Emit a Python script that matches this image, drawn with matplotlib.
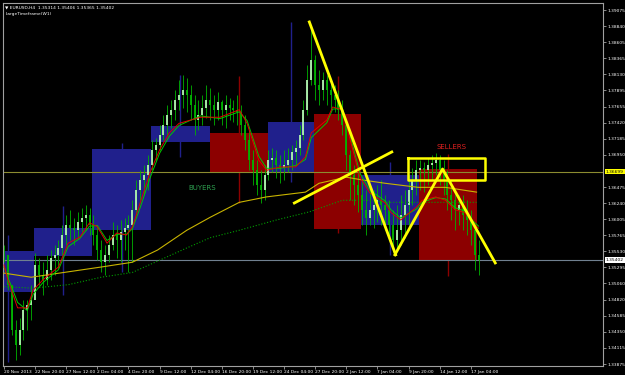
import matplotlib
matplotlib.use("Agg")
import matplotlib.pyplot as plt
from matplotlib.transforms import blended_transform_factory

# EURUSD H4, prix (une barre sur deux)
hi = [1.3562, 1.3548, 1.3504, 1.3452, 1.3455, 1.3481, 1.3481, 1.3504,
      1.3551, 1.3543, 1.3537, 1.3548, 1.3555, 1.3562, 1.3570, 1.3592,
      1.3606, 1.3614, 1.3602, 1.3611, 1.3617, 1.3621, 1.3617, 1.3606,
      1.3592, 1.3570, 1.3562, 1.3577, 1.3596, 1.3592, 1.3599, 1.3602,
      1.3606, 1.3628, 1.3658, 1.3672, 1.3680, 1.3695, 1.3717, 1.3719,
      1.3738, 1.3753, 1.3768, 1.3775, 1.3790, 1.3805, 1.3812, 1.3808,
      1.3797, 1.3783, 1.3775, 1.3783, 1.3797, 1.3793, 1.3783, 1.3787,
      1.3775, 1.3783, 1.3778, 1.3775, 1.3783, 1.3768, 1.3753, 1.3731,
      1.3702, 1.3687, 1.3672, 1.3680, 1.3702, 1.3705, 1.3702, 1.3695,
      1.3702, 1.3705, 1.3709, 1.3717, 1.3738, 1.3775, 1.3827, 1.3883,
      1.3841, 1.3819, 1.3816, 1.3812, 1.3805, 1.3797, 1.3790, 1.3775,
      1.3746, 1.3702, 1.3680, 1.3669, 1.3658, 1.3643, 1.3646, 1.3643,
      1.3650, 1.3658, 1.3636, 1.3628, 1.3614, 1.3621, 1.3636, 1.3643,
      1.3665, 1.3675, 1.3687, 1.3687, 1.3684, 1.3690, 1.3695, 1.3698,
      1.3695, 1.3687, 1.3672, 1.3658, 1.3643, 1.3636, 1.3636, 1.3628,
      1.3614, 1.3592, 1.3570]
lo = [1.3537, 1.3496, 1.3430, 1.3393, 1.3401, 1.3423, 1.3437, 1.3452,
      1.3496, 1.3504, 1.3489, 1.3504, 1.3511, 1.3518, 1.3529, 1.3548,
      1.3562, 1.3570, 1.3562, 1.3573, 1.3581, 1.3584, 1.3577, 1.3562,
      1.3540, 1.3522, 1.3518, 1.3537, 1.3555, 1.3543, 1.3537, 1.3555,
      1.3522, 1.3537, 1.3606, 1.3628, 1.3636, 1.3643, 1.3672, 1.3687,
      1.3702, 1.3717, 1.3724, 1.3734, 1.3746, 1.3761, 1.3763, 1.3758,
      1.3746, 1.3724, 1.3731, 1.3738, 1.3749, 1.3746, 1.3738, 1.3746,
      1.3738, 1.3734, 1.3746, 1.3743, 1.3738, 1.3724, 1.3702, 1.3672,
      1.3650, 1.3636, 1.3624, 1.3628, 1.3658, 1.3669, 1.3661, 1.3653,
      1.3658, 1.3669, 1.3672, 1.3680, 1.3695, 1.3717, 1.3753, 1.3797,
      1.3775, 1.3768, 1.3775, 1.3768, 1.3761, 1.3758, 1.3746, 1.3724,
      1.3672, 1.3628, 1.3621, 1.3611, 1.3592, 1.3577, 1.3592, 1.3587,
      1.3596, 1.3592, 1.3584, 1.3570, 1.3552, 1.3555, 1.3562, 1.3573,
      1.3592, 1.3621, 1.3636, 1.3643, 1.3640, 1.3650, 1.3658, 1.3665,
      1.3650, 1.3636, 1.3614, 1.3599, 1.3584, 1.3592, 1.3584, 1.3577,
      1.3562, 1.3526, 1.3518]
cl = [1.3548, 1.3504, 1.3437, 1.3415, 1.3437, 1.3467, 1.3474, 1.3481,
      1.3533, 1.3518, 1.3511, 1.3526, 1.3543, 1.3548, 1.3558, 1.3577,
      1.3592, 1.3587, 1.3584, 1.3596, 1.3602, 1.3606, 1.3592, 1.3577,
      1.3555, 1.3537, 1.3548, 1.3562, 1.3577, 1.3570, 1.3581, 1.3587,
      1.3592, 1.3614, 1.3643, 1.3658, 1.3665, 1.3680, 1.3702, 1.3709,
      1.3724, 1.3738, 1.3753, 1.3761, 1.3775, 1.3783, 1.3790, 1.3783,
      1.3768, 1.3746, 1.3753, 1.3763, 1.3775, 1.3768, 1.3761, 1.3772,
      1.3761, 1.3768, 1.3763, 1.3761, 1.3758, 1.3738, 1.3717, 1.3687,
      1.3672, 1.3650, 1.3643, 1.3665, 1.3687, 1.3690, 1.3680, 1.3675,
      1.3680, 1.3687, 1.3699, 1.3705, 1.3724, 1.3761, 1.3805, 1.3834,
      1.3797, 1.3790, 1.3805, 1.3790, 1.3783, 1.3775, 1.3761, 1.3738,
      1.3695, 1.3665, 1.3650, 1.3636, 1.3614, 1.3602, 1.3614, 1.3621,
      1.3628, 1.3621, 1.3614, 1.3592, 1.3570, 1.3584, 1.3606, 1.3621,
      1.3643, 1.3658, 1.3672, 1.3675, 1.3672, 1.3680, 1.3683, 1.3687,
      1.3672, 1.3658, 1.3636, 1.3628, 1.3614, 1.3621, 1.3606, 1.3599,
      1.3584, 1.3548, 1.3540]

# moyennes mobiles
ma_bars = [0, 2, 7, 12, 15, 20, 28, 33, 39, 44, 48, 53, 58, 63, 66, 70,
           75, 80, 85, 90, 101, 111, 121, 125, 131, 135, 142, 150, 155, 158,
           166, 169, 174, 179, 183, 188, 196, 199, 204, 212, 215, 222, 227,
           232, 237, 241, 244]
ma_red = [1.3533, 1.3511, 1.3470, 1.3470, 1.3496, 1.3511, 1.3530, 1.3565,
          1.3574, 1.3595, 1.3589, 1.3565, 1.3580, 1.3577, 1.3589, 1.3624,
          1.3668, 1.3702, 1.3727, 1.3741, 1.3750, 1.3750, 1.3761, 1.3741,
          1.3687, 1.3672, 1.3677, 1.3677, 1.3692, 1.3727, 1.3746, 1.3765,
          1.3761, 1.3706, 1.3662, 1.3639, 1.3624, 1.3610, 1.3599, 1.3618,
          1.3628, 1.3633, 1.3628, 1.3614, 1.3610, 1.3595, 1.3587]
ma_green = [1.3530, 1.3515, 1.3478, 1.3466, 1.3490, 1.3507, 1.3526, 1.3560,
            1.3572, 1.3590, 1.3591, 1.3569, 1.3578, 1.3578, 1.3586, 1.3617,
            1.3660, 1.3697, 1.3722, 1.3738, 1.3752, 1.3748, 1.3758, 1.3745,
            1.3693, 1.3675, 1.3675, 1.3679, 1.3688, 1.3720, 1.3742, 1.3762,
            1.3763, 1.3712, 1.3668, 1.3643, 1.3627, 1.3614, 1.3602, 1.3615,
            1.3625, 1.3632, 1.3630, 1.3617, 1.3612, 1.3598, 1.3590]
slow_bars = [0, 14, 50, 66, 79, 94, 106, 121, 135, 155, 162, 176, 184, 196,
             213, 227, 243]
slow_yel = [1.3521, 1.3515, 1.3530, 1.3537, 1.3555, 1.3584, 1.3603, 1.3625,
            1.3633, 1.3640, 1.3653, 1.3662, 1.3658, 1.3653, 1.3647, 1.3647,
            1.3640]
dot_bars = [0, 15, 33, 50, 66, 80, 94, 106, 121, 140, 157, 174, 186, 199,
            213, 243]
dot_grn = [1.3501, 1.3499, 1.3504, 1.3515, 1.3522, 1.3540, 1.3558, 1.3573,
           1.3584, 1.3599, 1.3611, 1.3628, 1.3628, 1.3625, 1.3625, 1.3625]

# bougies hebdo (LargeTimeframe)
wk_start = [-11, 15.3, 45.5, 75.7, 105.8, 135.5, 159.5, 183.5, 213.2]
wk_end = [15.3, 45.5, 75.7, 105.8, 135.5, 159.5, 183.5, 213.2, 243.4]
wk_open = [1.3494, 1.3546, 1.3584, 1.3713, 1.3727, 1.3668, 1.3755, 1.3592, 1.3674]
wk_close = [1.3553, 1.3588, 1.3703, 1.3737, 1.3668, 1.3743, 1.3586, 1.3665, 1.3540]
wk_high = [1.3577, 1.3619, 1.3712, 1.3812, 1.3810, 1.3890, 1.3811, 1.3684, 1.3696]
wk_low = [1.3390, 1.3489, 1.3522, 1.3691, 1.3624, 1.3655, 1.3580, 1.3548, 1.3517]

x_labels = ["20 Nov 2013", "22 Nov 20:00", "27 Nov 12:00", "2 Dec 04:00",
            "4 Dec 20:00", "9 Dec 12:00", "12 Dec 04:00", "16 Dec 20:00",
            "19 Dec 12:00", "24 Dec 04:00", "27 Dec 20:00", "2 Jan 12:00",
            "7 Jan 04:00", "9 Jan 20:00", "14 Jan 12:00", "17 Jan 04:00"]
y_ticks = [1.39075, 1.38840, 1.38605, 1.38365, 1.38130, 1.37895, 1.37655,
           1.37420, 1.37185, 1.36950, 1.36475, 1.36240, 1.36005, 1.35765,
           1.35530, 1.35295, 1.35060, 1.34820, 1.34585, 1.34350, 1.34115,
           1.33875]
level = 1.36699
bid = 1.35402

fs = 3.2

fig = plt.figure(figsize=(6.25, 3.75), dpi=100, facecolor="black")
ax = fig.add_axes([3 / 625, 9 / 375, 600 / 625, 363 / 375])
ax.set_facecolor("black")
ax.set_xlim(-0.5, 308)
ax.set_ylim(1.33846, 1.39178)

# boites hebdo
for s, e, o, c, h, l in zip(wk_start, wk_end, wk_open, wk_close, wk_high, wk_low):
    col = "#20208c" if c >= o else "#8c0000"
    ax.bar(s, c - o, width=e - s, bottom=o, align="edge", color=col, zorder=1)
    ax.vlines((s + e) / 2, l, h, colors=col, lw=1, zorder=1)

ax.axhline(level, color="#8c8c30", lw=0.8, zorder=2)
ax.axhline(bid, color="#708090", lw=0.8, zorder=2)

# bougies H4
bx = [2 * k for k in range(len(cl))]
op = [cl[0]] + cl[:-1]
ax.vlines(bx, lo, hi, colors="#00b400", lw=0.6, zorder=3)
body_col = ["#b4f5b4" if c >= o else "#00b400" for o, c in zip(op, cl)]
ax.vlines(bx, [min(o, c) for o, c in zip(op, cl)],
          [max(o, c) for o, c in zip(op, cl)], colors=body_col, lw=1.3, zorder=3)

ax.plot(slow_bars, slow_yel, color="#c8b400", lw=0.8, zorder=4)
ax.plot(dot_bars, dot_grn, color="#00a000", lw=0.8, ls=":", zorder=4)
ax.plot(ma_bars, ma_green, color="#00c800", lw=0.7, zorder=4)
ax.plot(ma_bars, ma_red, color="#e00000", lw=0.7, zorder=4)

# lignes de tendance
ax.plot([157, 201.4], [1.3890, 1.3548], color="yellow", lw=2, zorder=5)
ax.plot([201, 225.5, 252.6], [1.3548, 1.3674, 1.3536], color="yellow", lw=2, zorder=5)
ax.plot([149.3, 199.4], [1.3624, 1.3699], color="yellow", lw=2, zorder=5)
ax.plot([207.6, 247.4, 247.4, 207.6, 207.6], [1.3690, 1.3690, 1.3658, 1.3658, 1.3690],
        color="yellow", lw=1.8, zorder=5)

ax.text(94.6, 1.3646, "BUYERS", color="#2ea050", fontsize=5, va="center", zorder=6)
ax.text(222.4, 1.3706, "SELLERS", color="#e02020", fontsize=5, va="center", zorder=6)

ax.text(0.004, 0.993, "\u25bc EURUSD,H4  1.35314 1.35406 1.35365 1.35402",
        transform=ax.transAxes, color="white", fontsize=fs, va="top")
ax.text(0.004, 0.975, "LargeTimeframe(W1)", transform=ax.transAxes,
        color="white", fontsize=fs, va="top")

# axes
for sp in ax.spines.values():
    sp.set_color("#a0a0a0")
    sp.set_linewidth(0.8)
ax.yaxis.tick_right()
ax.set_yticks(y_ticks)
ax.set_yticklabels([f"{v:.5f}" for v in y_ticks])
ax.set_xticks([16 * i for i in range(len(x_labels))])
ax.set_xticklabels(x_labels)
ax.tick_params(axis="both", colors="#a0a0a0", labelcolor="white", labelsize=fs,
               length=2, width=0.6, pad=1)
for t in ax.get_xticklabels():
    t.set_horizontalalignment("left")

tr = blended_transform_factory(ax.transAxes, ax.transData)
ax.text(1.005, level, f"{level:.5f}", transform=tr, fontsize=fs, color="black",
        va="center", bbox=dict(boxstyle="square,pad=0.15", fc="yellow", ec="none"))
ax.text(1.005, bid, f"{bid:.5f}", transform=tr, fontsize=fs, color="black",
        va="center", bbox=dict(boxstyle="square,pad=0.15", fc="white", ec="none"))

fig.savefig("out.png", dpi=100, facecolor="black")
